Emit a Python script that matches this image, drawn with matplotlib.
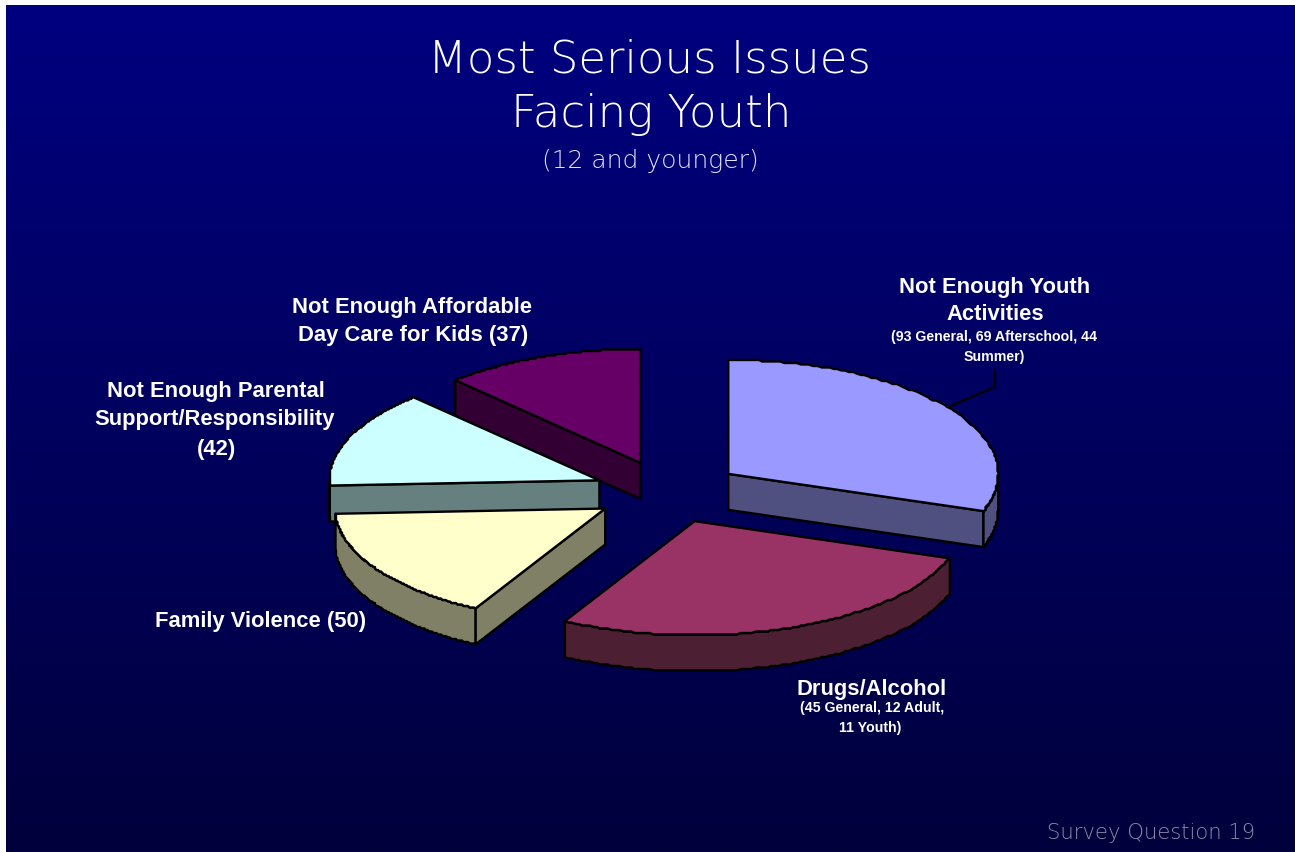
import numpy as np
import matplotlib
matplotlib.use("Agg")
import matplotlib.pyplot as plt
from matplotlib.patches import Polygon

# issue counts, clockwise from 12 o'clock
issues = ["Youth Activities", "Drugs/Alcohol", "Family Violence", "Parental Support", "Day Care"]
counts = [93, 85, 50, 42, 37]
top_colors = ["#9999FF", "#993366", "#FFFFCC", "#CCFFFF", "#660066"]
side_colors = ["#4F4F80", "#4D1F33", "#808066", "#668080", "#330033"]

# back to front
draw_order = [4, 3, 0, 2, 1]

W, H = 1295, 852
CX, CY = 668, 492
RX, RY = 270, 114
DEPTH = 36
EXPLODE = 74
LW = 1.7

fig = plt.figure(figsize=(W / 100, H / 100), dpi=100, facecolor="white")
ax = fig.add_axes([0, 0, 1, 1])
ax.set_xlim(0, W)
ax.set_ylim(H, 0)
ax.axis("off")

# background fade, navy to almost black
grad = np.linspace(0, 1, 256).reshape(-1, 1)
grad_rgb = np.zeros((256, 1, 3))
grad_rgb[:, :, 2] = (128 - 68 * grad) / 255
ax.imshow(grad_rgb, extent=(6, W, H, 5), aspect="auto", zorder=0, interpolation="bilinear")
ax.set_xlim(0, W)
ax.set_ylim(H, 0)


def rim_point(ang, apex):
    a = np.radians(ang)
    return apex[0] + RX * np.sin(a), apex[1] - RY * np.cos(a)


def arc(a0, a1, apex):
    # snapped to a coarse grid, the curves come out a little stepped
    pts = [rim_point(t, apex) for t in np.linspace(a0, a1, 120)]
    mid = [(round(x / 1.5) * 1.5, round(y / 1.5) * 1.5) for x, y in pts[1:-1]]
    return [pts[0]] + mid + [pts[-1]]


def add_poly(pts, color, z):
    ax.add_patch(Polygon(pts, closed=True, facecolor=color, edgecolor="black",
                         linewidth=LW, joinstyle="round", zorder=z))


def drop(pts):
    return [(x, y + DEPTH) for x, y in pts]


edges = np.cumsum([0] + counts) / sum(counts) * 360

z = 2
for i in draw_order:
    a0, a1 = edges[i], edges[i + 1]
    mid = np.radians((a0 + a1) / 2)
    apex = (CX + EXPLODE * np.sin(mid), CY - EXPLODE * np.cos(mid) * RY / RX)
    top, side = top_colors[i], side_colors[i]

    # cut faces that look towards the viewer
    if np.sin(np.radians(a0)) < -1e-6:
        edge = [apex, rim_point(a0, apex)]
        add_poly(edge + drop(edge)[::-1], side, z)
    if np.sin(np.radians(a1)) > 1e-6:
        edge = [apex, rim_point(a1, apex)]
        add_poly(edge + drop(edge)[::-1], side, z)

    # outer rim, front half only
    r0, r1 = max(a0, 90), min(a1, 270)
    if r1 > r0:
        curve = arc(r0, r1, apex)
        add_poly(curve + drop(curve)[::-1], side, z)

    add_poly([apex] + arc(a0, a1, apex), top, z + 1)
    z += 2

# leader for the youth activities label
ax.plot([995, 995, 948], [371, 387, 407], color="black", lw=1.5, zorder=20)

thin = dict(family=["DejaVu Sans"], weight=200, ha="center", va="center", zorder=30)
ax.text(649, 60, "Most Serious Issues", color="white", fontsize=32.4, **thin)
ax.text(651, 115, "Facing Youth", color="white", fontsize=32.4, **thin)
ax.text(650, 161, "(12 and younger)", color="#E4E4F6", fontsize=18, **thin)
ax.text(1151, 833, "Survey Question 19", color="#8C8CAA", fontsize=15.2, **thin)

bold = dict(family="Liberation Sans", weight="bold", color="white", ha="center", va="center", zorder=30)
big, small = 15.85, 10.2
ax.text(995, 287, "Not Enough Youth", fontsize=big, **bold)
ax.text(995, 315, "Activities", fontsize=big, **bold)
ax.text(994, 337, "(93 General, 69 Afterschool, 44", fontsize=small, **bold)
ax.text(994, 357, "Summer)", fontsize=small, **bold)
ax.text(412, 307, "Not Enough Affordable", fontsize=big, **bold)
ax.text(413, 335, "Day Care for Kids (37)", fontsize=big, **bold)
ax.text(216, 391, "Not Enough Parental", fontsize=big, **bold)
ax.text(215, 419, "Support/Responsibility", fontsize=big, **bold)
ax.text(216, 450, "(42)", fontsize=big, **bold)
ax.text(260.5, 621, "Family Violence (50)", fontsize=big, **bold)
ax.text(872, 689, "Drugs/Alcohol", fontsize=big, **bold)
ax.text(872, 708, "(45 General, 12 Adult,", fontsize=small, **bold)
ax.text(870, 728, "11 Youth)", fontsize=small, **bold)

fig.savefig("out.png", dpi=100, facecolor="white")
